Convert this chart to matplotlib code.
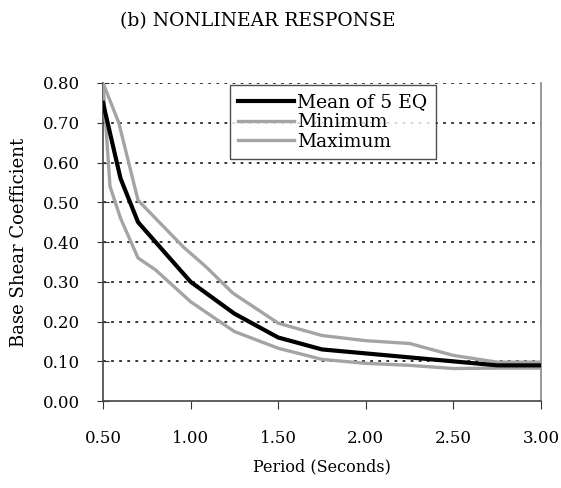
import numpy as np
import matplotlib
matplotlib.use("Agg")
import matplotlib.pyplot as plt

plt.rcParams['font.family'] = ['DejaVu Serif']

# ---- data ----
period_mean = [0.50, 0.60, 0.70, 1.00, 1.25, 1.50, 1.75, 2.00, 2.50, 2.75, 3.00]
mean_vals   = [0.75, 0.56, 0.45, 0.30, 0.22, 0.16, 0.13, 0.12, 0.10, 0.09, 0.09]

period_min = [0.50, 0.54, 0.60, 0.70, 0.80, 0.90, 1.00, 1.25, 1.50, 1.75, 2.00, 2.25, 2.50, 2.75, 3.00]
min_vals   = [0.80, 0.54, 0.46, 0.36, 0.33, 0.29, 0.25, 0.175, 0.133, 0.105, 0.095, 0.09, 0.082, 0.083, 0.083]

period_max = [0.50, 0.59, 0.70, 0.81, 0.96, 1.09, 1.24, 1.50, 1.75, 2.00, 2.25, 2.50, 2.75, 3.00]
max_vals   = [0.80, 0.70, 0.505, 0.455, 0.387, 0.337, 0.272, 0.196, 0.165, 0.152, 0.145, 0.115, 0.098, 0.098]

xticks = [0.5, 1.0, 1.5, 2.0, 2.5, 3.0]
yticks = [0.0, 0.1, 0.2, 0.3, 0.4, 0.5, 0.6, 0.7, 0.8]

fig = plt.figure(figsize=(5.61, 4.88), dpi=100)
ax = fig.add_axes([0.1836, 0.178, 0.7807, 0.652])

# dotted gridlines
for yv in yticks[1:]:
    ax.axhline(yv, color='black', lw=1.1, ls=(0, (1.8, 3.5)), zorder=1)

gray = '#a4a4a4'
ax.plot(period_mean, mean_vals, color='black', lw=3, label='Mean of 5 EQ', zorder=4)
ax.plot(period_min, min_vals, color=gray, lw=2.4, label='Minimum', zorder=3)
ax.plot(period_max, max_vals, color=gray, lw=2.4, label='Maximum', zorder=3)

ax.set_xlim(0.5, 3.0)
ax.set_ylim(0.0, 0.8)
ax.set_xticks(xticks)
ax.set_xticklabels([f"{v:.2f}" for v in xticks])
ax.set_yticks(yticks)
ax.set_yticklabels([f"{v:.2f}" for v in yticks])
ax.tick_params(axis='x', direction='out', length=6, labelsize=12, pad=15, color='#333333')
ax.tick_params(axis='y', direction='inout', length=9, labelsize=12, pad=12, color='#333333')

ax.spines['top'].set_visible(False)
ax.spines['left'].set_color('#444444')
ax.spines['bottom'].set_color('#444444')
ax.spines['right'].set_color('#888888')
for s in ['left', 'bottom', 'right']:
    ax.spines[s].set_linewidth(1.2)

ax.set_xlabel("Period (Seconds)", fontsize=11.5, labelpad=8)
ax.set_ylabel("Base Shear Coefficient", fontsize=13, labelpad=11)

leg = ax.legend(loc='upper left', bbox_to_anchor=(0.285, 1.0), fontsize=13.5,
                frameon=True, fancybox=False, handlelength=3.0,
                handletextpad=0.15, borderpad=0.45, labelspacing=0.1,
                borderaxespad=0.1)
leg.get_frame().set_edgecolor('#222222')
leg.get_frame().set_linewidth(1.0)

fig.text(0.46, 0.957, "(b) NONLINEAR RESPONSE", ha='center', va='center', fontsize=13.5)

fig.savefig("out.png", dpi=100)
